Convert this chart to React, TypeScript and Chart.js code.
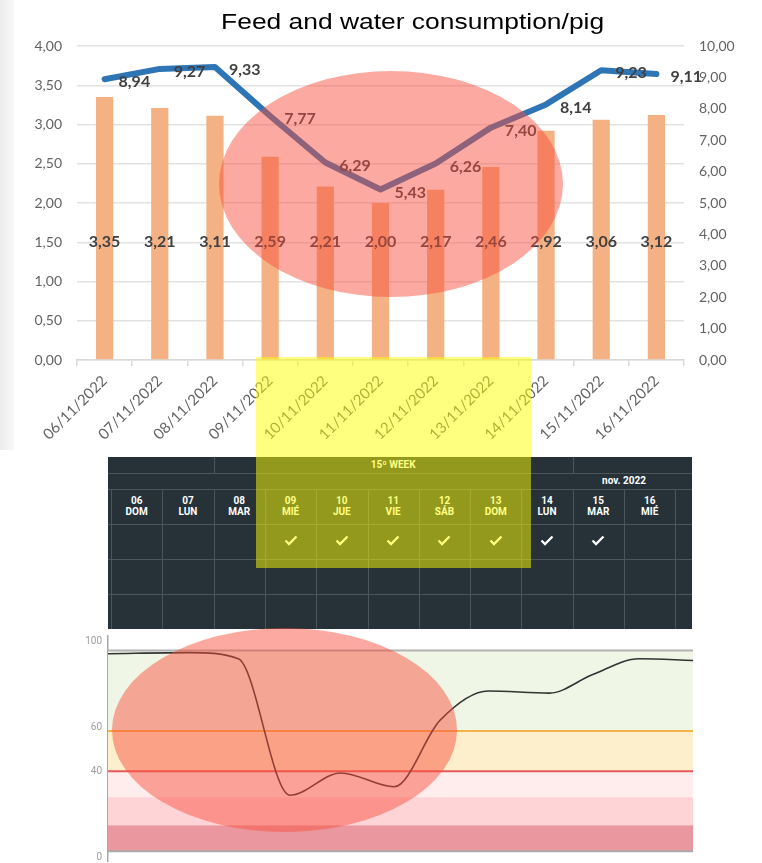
import React, { useEffect, useRef } from 'react';
import { Chart, registerables } from 'chart.js';

Chart.register(...registerables);

// ---------- top chart data ----------
const dates = ['06/11/2022', '07/11/2022', '08/11/2022', '09/11/2022', '10/11/2022', '11/11/2022', '12/11/2022', '13/11/2022', '14/11/2022', '15/11/2022', '16/11/2022'];
const feedPerPig = [3.35, 3.21, 3.11, 2.59, 2.21, 2.0, 2.17, 2.46, 2.92, 3.06, 3.12];
const waterPerPig = [8.94, 9.27, 9.33, 7.77, 6.29, 5.43, 6.26, 7.4, 8.14, 9.23, 9.11];
const feedAxisRange = [0, 4, 0.5];
const waterAxisRange = [0, 10, 1];
const barLabelLevel = 1.5;
const chartTitle = 'Feed and water consumption/pig';

// ---------- calendar data ----------
const dayNumbers = ['06', '07', '08', '09', '10', '11', '12', '13', '14', '15', '16'];
const dayNames = ['DOM', 'LUN', 'MAR', 'MIÉ', 'JUE', 'VIE', 'SÁB', 'DOM', 'LUN', 'MAR', 'MIÉ'];
const doneDays = [false, false, false, true, true, true, true, true, true, true, false];
const weekLabel = '15º WEEK';
const monthLabel = 'nov. 2022';

// ---------- bottom chart data ----------
const trendX = [0, 1.6, 2.56, 3.57, 4.57, 5.62, 6.52, 7.47, 8.67, 9.51, 10.43, 11.49];
const trendY = [94.3, 94.8, 92.0, 28.9, 39.2, 32.8, 63.5, 77.1, 76.1, 84.6, 92.0, 91.2];
const trendTicks = [0, 40, 60, 100];
const bandLimits = [95.8, 58.6, 40, 28, 15, 3];
const bandColors = ['#eff6e5', '#fdefcb', '#ffeded', '#ffd4d6', '#ea97a0'];
const limitLineColors = ['#b2b2b2', '#f6b24a', '#e85a5a', null, null, '#aaaaaa'];

const fmt = (v: number) => Number(v).toFixed(2).replace('.', ',');

function FeedWaterChart() {
  const ref = useRef<HTMLCanvasElement>(null);
  useEffect(() => {
    const labelPlugin = {
      id: 'valueLabels',
      afterDatasetsDraw(chart: any) {
        const ctx = chart.ctx;
        ctx.save();
        ctx.font = 'bold 16px Lato';
        ctx.fillStyle = '#404040';
        ctx.textBaseline = 'middle';
        const barMeta = chart.getDatasetMeta(1);
        const yBar = chart.scales.y.getPixelForValue(barLabelLevel);
        ctx.textAlign = 'center';
        barMeta.data.forEach((el: any, i: number) => ctx.fillText(fmt(feedPerPig[i]), el.x, yBar));
        const lineMeta = chart.getDatasetMeta(0);
        ctx.textAlign = 'left';
        lineMeta.data.forEach((el: any, i: number) => ctx.fillText(fmt(waterPerPig[i]), el.x + 14, el.y + 3));
        ctx.restore();
      },
    };
    const tickFont = { family: 'Lato', size: 14 };
    const chart = new Chart(ref.current!, {
      type: 'bar',
      data: {
        labels: dates,
        datasets: [
          {
            type: 'line',
            label: 'Water',
            data: waterPerPig,
            yAxisID: 'y2',
            borderColor: '#2e75b6',
            borderWidth: 6,
            pointRadius: 0,
            tension: 0,
            borderCapStyle: 'round',
            borderJoinStyle: 'round',
            order: 0,
          } as any,
          {
            type: 'bar',
            label: 'Feed',
            data: feedPerPig,
            yAxisID: 'y',
            backgroundColor: '#f4b183',
            barPercentage: 0.6,
            categoryPercentage: 0.52,
            order: 1,
          },
        ],
      },
      options: {
        responsive: false,
        animation: false,
        layout: { padding: { top: 46, left: 0, right: 0, bottom: 0 } },
        plugins: { legend: { display: false }, tooltip: { enabled: false }, title: { display: false } },
        scales: {
          x: {
            grid: { offset: true, drawOnChartArea: false, drawTicks: true, tickLength: 6, color: '#d9d9d9', lineWidth: 1.5 },
            border: { color: '#d9d9d9', width: 1.5 },
            ticks: { minRotation: 45, maxRotation: 45, autoSkip: false, font: { family: 'Lato', size: 15 }, color: '#636363', padding: 6 },
            afterFit: (s: any) => { s.height = 95; },
          },
          y: {
            position: 'left',
            min: feedAxisRange[0],
            max: feedAxisRange[1],
            ticks: { stepSize: feedAxisRange[2], callback: (v: any) => fmt(v), padding: 15, font: tickFont, color: '#636363' },
            grid: { color: '#e2e2e2', lineWidth: 1.5, drawTicks: false },
            border: { display: false },
            afterFit: (s: any) => { s.width = 77; },
          },
          y2: {
            position: 'right',
            min: waterAxisRange[0],
            max: waterAxisRange[1],
            ticks: { stepSize: waterAxisRange[2], callback: (v: any) => fmt(v), padding: 15, font: tickFont, color: '#636363' },
            grid: { display: false, drawTicks: false },
            border: { display: false },
            afterFit: (s: any) => { s.width = 78; },
          },
        },
      } as any,
      plugins: [labelPlugin],
    });
    return () => chart.destroy();
  }, []);
  return <canvas ref={ref} width={762} height={455} style={{ position: 'absolute', left: 0, top: 0, width: 762, height: 455 }} />;
}

function TrendChart() {
  const ref = useRef<HTMLCanvasElement>(null);
  useEffect(() => {
    const bandPlugin = {
      id: 'bands',
      beforeDatasetsDraw(chart: any) {
        const { ctx, chartArea } = chart;
        const y = chart.scales.y;
        ctx.save();
        for (let i = 0; i < bandColors.length; i++) {
          const top = y.getPixelForValue(bandLimits[i]);
          const bot = y.getPixelForValue(bandLimits[i + 1]);
          ctx.fillStyle = bandColors[i];
          ctx.fillRect(chartArea.left, top, chartArea.right - chartArea.left, bot - top);
        }
        limitLineColors.forEach((c, i) => {
          if (!c) return;
          const py = y.getPixelForValue(bandLimits[i]);
          ctx.strokeStyle = c;
          ctx.lineWidth = 2;
          ctx.beginPath();
          ctx.moveTo(chartArea.left, py);
          ctx.lineTo(chartArea.right, py);
          ctx.stroke();
        });
        ctx.restore();
      },
    };
    const chart = new Chart(ref.current!, {
      type: 'line',
      data: {
        datasets: [
          {
            data: trendX.map((x, i) => ({ x, y: trendY[i] })),
            borderColor: '#333333',
            borderWidth: 1.6,
            pointRadius: 0,
            cubicInterpolationMode: 'monotone',
            fill: false,
          } as any,
        ],
      },
      options: {
        responsive: false,
        animation: false,
        layout: { padding: { top: 5, bottom: 2, left: 0, right: 7 } },
        plugins: { legend: { display: false }, tooltip: { enabled: false } },
        scales: {
          x: { type: 'linear', min: trendX[0], max: trendX[trendX.length - 1], display: false },
          y: {
            min: -1.5,
            max: 102.5,
            afterBuildTicks: (s: any) => { s.ticks = trendTicks.map((v) => ({ value: v })); },
            ticks: { font: { family: 'Roboto', size: 10 }, color: '#9e9e9e', padding: 0 },
            grid: { display: true, drawOnChartArea: false, drawTicks: true, tickLength: 6, color: 'rgba(0,0,0,0)' },
            border: { color: '#a8a8a8', width: 1.5 },
            afterFit: (s: any) => { s.width = 48; },
          },
        },
      } as any,
      plugins: [bandPlugin],
    });
    return () => chart.destroy();
  }, []);
  return <canvas ref={ref} width={640} height={237} style={{ position: 'absolute', left: 60, top: 630, width: 640, height: 237 }} />;
}

function Calendar() {
  const L = 108, T = 457, R = 692, B = 629;
  const c0 = 111, cw = 51.3;
  const rows = [473, 489, 524, 559, 594];
  const line = '#4a555c';
  const txt: React.CSSProperties = { position: 'absolute', color: '#ffffff', fontFamily: 'Roboto', fontWeight: 700, fontSize: 10, textAlign: 'center', lineHeight: '11px' };
  const els: React.ReactNode[] = [];
  rows.forEach((y, i) => els.push(<div key={'h' + i} style={{ position: 'absolute', left: L, top: y, width: R - L, height: 1, background: line }} />));
  for (let i = 0; i <= 11; i++) {
    els.push(<div key={'v' + i} style={{ position: 'absolute', left: c0 + i * cw, top: 489, width: 1, height: B - 489, background: line }} />);
  }
  [2, 9].forEach((k) => els.push(<div key={'t' + k} style={{ position: 'absolute', left: c0 + k * cw, top: T, width: 1, height: 473 - T, background: line }} />));
  els.push(<div key="wk" style={{ ...txt, left: c0 + 2 * cw, top: T, width: 7 * cw, height: 16, lineHeight: '16px' }}>{weekLabel}</div>);
  els.push(<div key="mo" style={{ ...txt, left: c0 + 9 * cw, top: 473, width: 2 * cw, height: 16, lineHeight: '16px' }}>{monthLabel}</div>);
  dayNumbers.forEach((d, i) => {
    els.push(
      <div key={'d' + i} style={{ ...txt, left: c0 + i * cw, top: 495, width: cw }}>
        {d}
        <br />
        {dayNames[i]}
      </div>
    );
    if (doneDays[i]) {
      els.push(
        <svg key={'c' + i} width={14} height={11} viewBox="0 0 14 11" style={{ position: 'absolute', left: c0 + i * cw + cw / 2 - 7, top: 535 }}>
          <polyline points="1.5,5.5 5,9 12.5,1.5" fill="none" stroke="#ffffff" strokeWidth={2.3} />
        </svg>
      );
    }
  });
  return (
    <>
      <div style={{ position: 'absolute', left: L, top: T, width: R - L, height: B - T, background: '#263238' }} />
      {els}
    </>
  );
}

export default function App() {
  return (
    <div style={{ position: 'absolute', left: 0, top: 0, width: 762, height: 863, overflow: 'hidden', background: '#ffffff' }}>
      <div style={{ position: 'absolute', left: 0, top: 0, width: 14, height: 450, background: 'linear-gradient(to right, #ececec, #f8f8f8)' }} />
      <FeedWaterChart />
      <div style={{ position: 'absolute', left: 0, top: 10.5, width: 826, textAlign: 'center', fontFamily: '"Liberation Sans", Arial, sans-serif', fontSize: 22, lineHeight: '22px', color: '#000' }}>
        <span style={{ display: 'inline-block', transform: 'scaleX(1.2)' }}>{chartTitle}</span>
      </div>
      <Calendar />
      <TrendChart />
      <div style={{ position: 'absolute', left: 219, top: 71, width: 344, height: 226, borderRadius: '50%', background: 'rgba(248,78,58,0.48)' }} />
      <div style={{ position: 'absolute', left: 112, top: 628, width: 345, height: 204, borderRadius: '50%', background: 'rgba(248,78,58,0.48)' }} />
      <div style={{ position: 'absolute', left: 256, top: 357, width: 275, height: 211, background: 'rgba(255,255,0,0.5)' }} />
    </div>
  );
}
